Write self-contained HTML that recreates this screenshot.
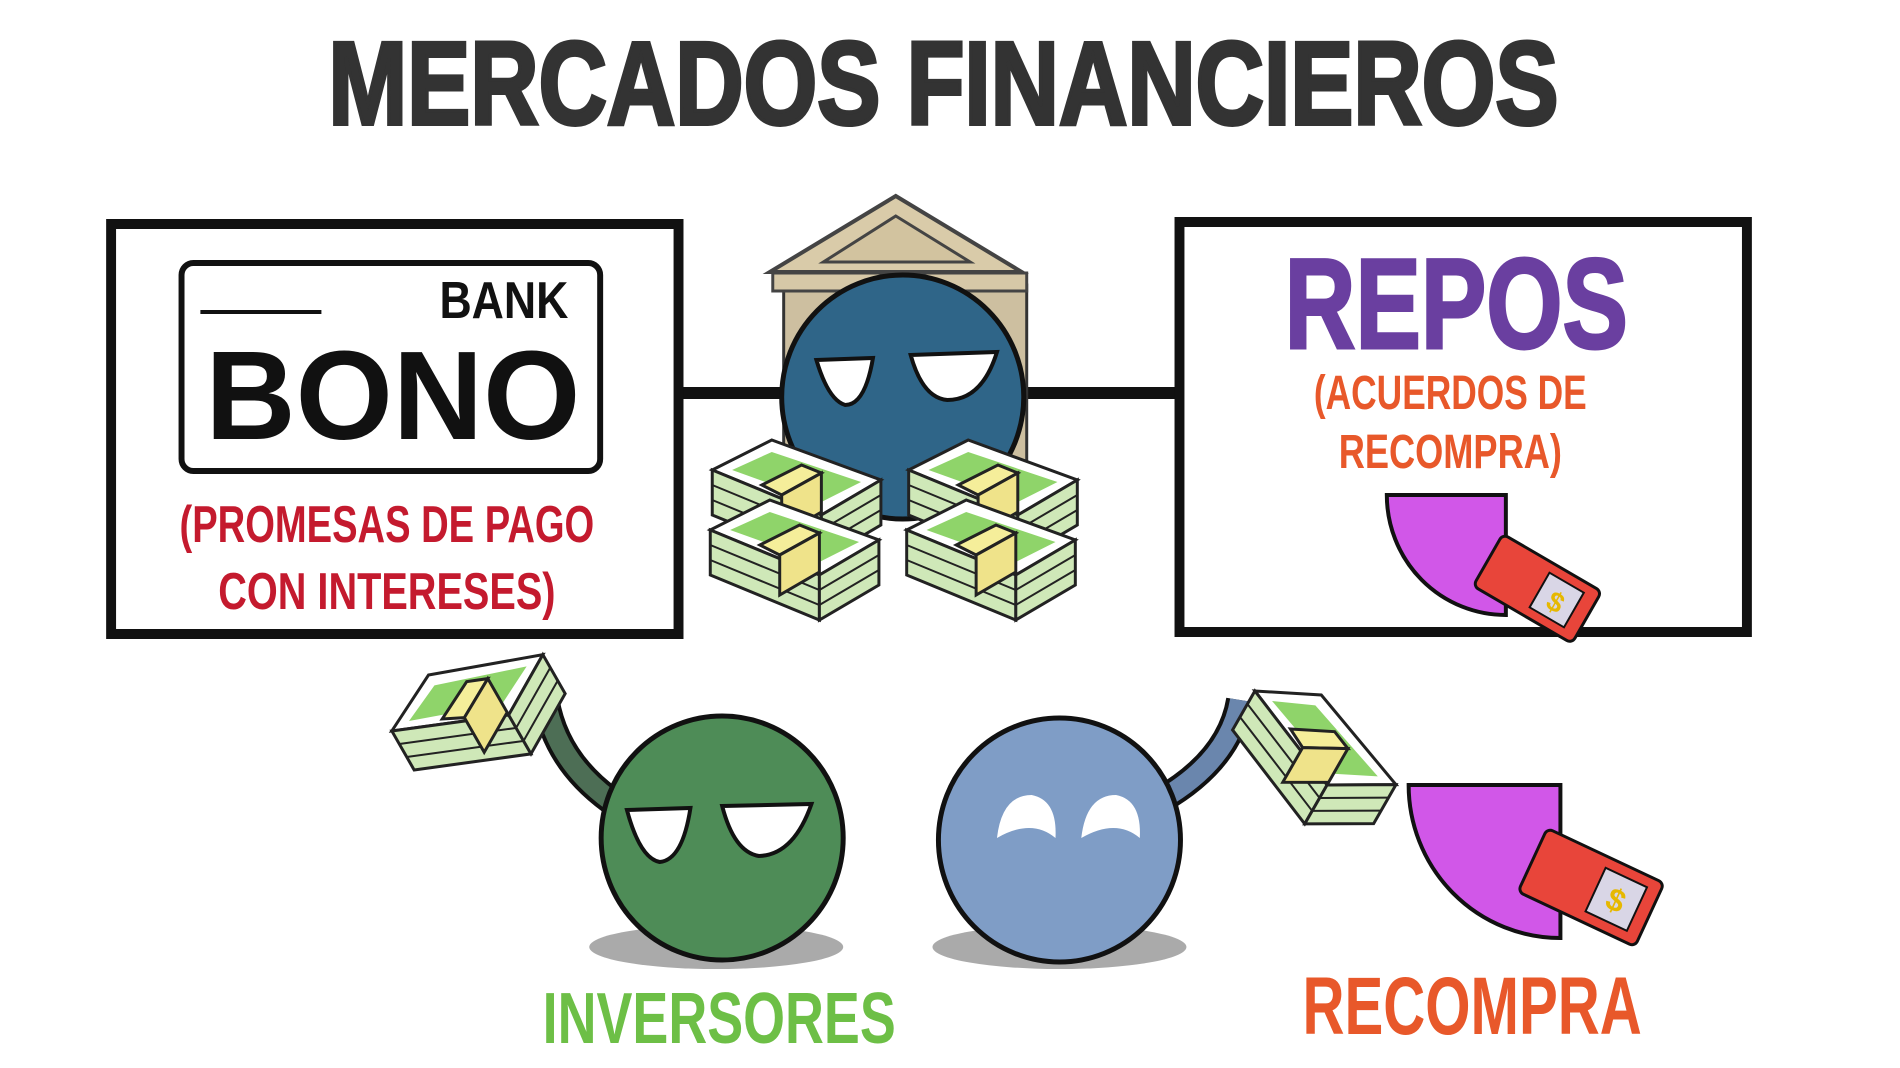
<!DOCTYPE html>
<html><head><meta charset="utf-8"><style>
html,body{margin:0;padding:0;background:#fff;width:1900px;height:1068px;overflow:hidden}
svg{display:block}
text{font-family:"Liberation Sans Narrow","Liberation Sans",sans-serif;font-weight:bold}
</style></head><body>
<svg width="1900" height="1068" viewBox="0 0 1900 1068">
<defs>
<g id="stack">
  <polygon points="0,30 60,0 170,40 110,75" fill="#fff" stroke="#222" stroke-width="3"/>
  <polygon points="0,30 110,75 110,120 0,75" fill="#cfe8b8" stroke="#222" stroke-width="3"/>
  <polygon points="110,75 170,40 170,85 110,120" fill="#cfe8b8" stroke="#222" stroke-width="3"/>
  <path d="M0,45 L110,90 L170,55 M0,60 L110,105 L170,70" fill="none" stroke="#222" stroke-width="2"/>
  <polygon points="20,30 60,12 150,42 110,62" fill="#8fd46a"/>
  <polygon points="50,45 90,25 110,33 70,55" fill="#f5ee9a" stroke="#222" stroke-width="3"/>
  <polygon points="70,55 110,33 110,72 70,95" fill="#efe38a" stroke="#222" stroke-width="3"/>
</g>
</defs>
<g transform="matrix(0.992,0,0,1,0,0)">
<!-- title -->
<text x="951" y="124" text-anchor="middle" font-size="118" fill="#333" textLength="1240" lengthAdjust="spacingAndGlyphs" stroke="#333" stroke-width="4">MERCADOS FINANCIEROS</text>

<!-- connectors -->
<line x1="688" y1="393" x2="1185" y2="393" stroke="#111" stroke-width="12"/>

<!-- left box -->
<rect x="112" y="224" width="572" height="410" fill="#fff" stroke="#111" stroke-width="10"/>
<rect x="183" y="263" width="422" height="208" rx="12" fill="#fff" stroke="#111" stroke-width="6"/>
<line x1="202" y1="312" x2="324" y2="312" stroke="#111" stroke-width="4"/>
<text x="508" y="318" text-anchor="middle" font-size="52" fill="#111" textLength="130" lengthAdjust="spacingAndGlyphs">BANK</text>
<text x="396" y="439" text-anchor="middle" font-size="126" fill="#111" style="font-family:'Liberation Sans',sans-serif" textLength="378" lengthAdjust="spacingAndGlyphs">BONO</text>
<text x="390" y="542" text-anchor="middle" font-size="52" fill="#c41a2e" textLength="418" lengthAdjust="spacingAndGlyphs">(PROMESAS DE PAGO</text>
<text x="390" y="609" text-anchor="middle" font-size="52" fill="#c41a2e" textLength="340" lengthAdjust="spacingAndGlyphs">CON INTERESES)</text>

<!-- right box -->
<rect x="1189" y="222" width="572" height="410" fill="#fff" stroke="#111" stroke-width="10"/>
<text x="1468" y="348" text-anchor="middle" font-size="128" fill="#6a3fa0" textLength="346" lengthAdjust="spacingAndGlyphs" stroke="#6a3fa0" stroke-width="3">REPOS</text>
<text x="1462" y="409" text-anchor="middle" font-size="48" fill="#e8582a" textLength="275" lengthAdjust="spacingAndGlyphs">(ACUERDOS DE</text>
<text x="1462" y="468" text-anchor="middle" font-size="48" fill="#e8582a" textLength="225" lengthAdjust="spacingAndGlyphs">RECOMPRA)</text>
<path d="M1518,495 L1398,495 A120,120 0 0 0 1518,615 Z" fill="#d157e8" stroke="#111" stroke-width="4"/>
<g transform="translate(1500,560) rotate(30)">
  <rect x="0" y="-30" width="115" height="60" rx="6" fill="#e8453a" stroke="#111" stroke-width="3"/>
  <rect x="60" y="-20" width="40" height="40" fill="#d9d6e6" stroke="#111" stroke-width="2"/>
  <text x="80" y="12" text-anchor="middle" font-size="28" fill="#e6b800">$</text>
</g>

<!-- bank building -->
<rect x="790" y="285" width="245" height="230" fill="#cdbfa0" stroke="#333" stroke-width="3"/>
<polygon points="903,196 1030,272 776,272" fill="#d9cba9" stroke="#444" stroke-width="4"/>
<polygon points="903,216 978,262 830,262" fill="#d2c39f" stroke="#444" stroke-width="3"/>
<rect x="779" y="273" width="256" height="18" fill="#d6c8a7" stroke="#444" stroke-width="3"/>
<circle cx="910" cy="397" r="122" fill="#2f6588" stroke="#111" stroke-width="5"/>
<path d="M823,360 L880,358 Q872,405 852,405 Q835,400 823,360Z" fill="#fff" stroke="#111" stroke-width="4"/>
<path d="M918,355 L1005,352 Q990,400 955,400 Q930,398 918,355Z" fill="#fff" stroke="#111" stroke-width="4"/>
<use href="#stack" x="718" y="440"/>
<use href="#stack" x="716" y="500"/>
<use href="#stack" x="916" y="440"/>
<use href="#stack" x="914" y="500"/>

<!-- green ball -->
<ellipse cx="722" cy="947" rx="128" ry="22" fill="#aaa"/>
<path d="M615,800 Q560,760 550,700" stroke="#111" stroke-width="28" fill="none"/>
<path d="M615,800 Q560,760 550,700" stroke="#4d6e55" stroke-width="20" fill="none"/>
<circle cx="728" cy="838" r="122" fill="#4e8c57" stroke="#111" stroke-width="5"/>
<path d="M632,810 L696,808 Q688,860 665,862 Q645,858 632,810Z" fill="#fff" stroke="#111" stroke-width="4"/>
<path d="M728,806 L818,804 Q800,855 765,856 Q740,852 728,806Z" fill="#fff" stroke="#111" stroke-width="4"/>
<use href="#stack" transform="translate(380,705) rotate(-30) scale(1)"/>
<text x="725" y="1043" text-anchor="middle" font-size="72" fill="#6dbf46" textLength="356" lengthAdjust="spacingAndGlyphs">INVERSORES</text>

<!-- blue ball -->
<ellipse cx="1068" cy="947" rx="128" ry="22" fill="#aaa"/>
<path d="M1170,800 Q1240,760 1250,700" stroke="#111" stroke-width="28" fill="none"/>
<path d="M1170,800 Q1240,760 1250,700" stroke="#6a86ad" stroke-width="20" fill="none"/>
<circle cx="1068" cy="840" r="122" fill="#7f9dc6" stroke="#111" stroke-width="5"/>
<path d="M1005,838 Q1010,795 1040,795 Q1066,800 1064,838 Q1040,818 1005,838Z" fill="#fff"/>
<path d="M1090,838 Q1095,795 1125,795 Q1151,800 1149,838 Q1125,818 1090,838Z" fill="#fff"/>
<use href="#stack" transform="translate(1280,665) rotate(30) scale(1)"/>
<path d="M1573,785 L1420,785 A153,153 0 0 0 1573,938 Z" fill="#d157e8" stroke="#111" stroke-width="4"/>
<g transform="translate(1545,860) rotate(25)">
  <rect x="0" y="-35" width="130" height="70" rx="6" fill="#e8453a" stroke="#111" stroke-width="3"/>
  <rect x="70" y="-24" width="46" height="48" fill="#d9d6e6" stroke="#111" stroke-width="2"/>
  <text x="93" y="12" text-anchor="middle" font-size="32" fill="#e6b800">$</text>
</g>
<text x="1484" y="1034" text-anchor="middle" font-size="82" fill="#e8582a" textLength="342" lengthAdjust="spacingAndGlyphs">RECOMPRA</text>
</g>
</svg>
</body></html>
